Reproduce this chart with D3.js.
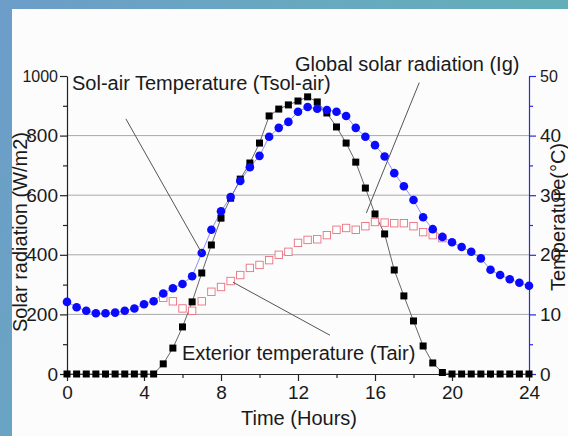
<!DOCTYPE html>
<html><head><meta charset="utf-8">
<script src="https://cdn.jsdelivr.net/npm/d3@7"></script>
<style>
html,body{margin:0;padding:0;background:#fff;}
svg{display:block;font-family:"Liberation Sans",Arial,Helvetica,sans-serif;}
</style></head><body>
<script>
// ---- data ----
const hours = [0,0.5,1,1.5,2,2.5,3,3.5,4,4.5,5,5.5,6,6.5,7,7.5,8,8.5,9,9.5,10,10.5,11,11.5,12,12.5,13,13.5,14,14.5,15,15.5,16,16.5,17,17.5,18,18.5,19,19.5,20,20.5,21,21.5,22,22.5,23,23.5,24];
const solarRadiation = [0,0,0,0,0,0,0,0,0,0,34,87,158,242,339,433,523,590,654,708,775,866,889,903,916,930,913,876,829,775,711,624,537,470,349,262,178,94,37,5,0,0,0,0,0,0,0,0,0];
const solAirTemp = [12.1,11.2,10.6,10.2,10.2,10.3,10.6,11.0,11.7,12.2,13.5,14.4,15.1,16.4,20.3,24.2,27.3,29.7,32.4,34.7,36.6,39.8,41.3,42.3,44.0,44.8,44.5,44.3,44.0,43.3,41.3,39.8,38.4,36.5,33.7,31.5,29.2,26.3,24.3,23.0,22.1,21.3,20.5,19.4,17.5,16.6,15.9,15.3,14.8];
const airHours = [5,5.5,6,6.5,7,7.5,8,8.5,9,9.5,10,10.5,11,11.5,12,12.5,13,13.5,14,14.5,15,15.5,16,16.5,17,17.5,18,18.5,19,19.5];
const airTemp = [12.8,12.2,11.0,10.6,12.2,13.8,14.6,15.6,16.6,17.8,18.3,19.1,20.0,20.5,22.0,22.5,22.6,23.3,24.2,24.5,24.2,24.8,25.5,25.4,25.3,25.3,24.8,23.8,23.3,22.8];
const xTicks = [0,4,8,12,16,20,24];
const xMinor = [2,6,10,14,18,22];
const leftTicks = [0,200,400,600,800,1000];
const leftMinor = [100,300,500,700,900];
const rightTicks = [0,10,20,30,40,50];
const rightMinor = [5,15,25,35,45];
const gridValues = [200,400,600,800];

const W = 568, H = 436;
const svg = d3.select("body").append("svg").attr("width", W).attr("height", H);

// background (slide)
const defs = svg.append("defs");
const g1 = defs.append("linearGradient").attr("id","bg").attr("x1","0").attr("y1","0").attr("x2","1").attr("y2","0.3");
g1.append("stop").attr("offset","0").attr("stop-color","#6c9dc9");
g1.append("stop").attr("offset","0.5").attr("stop-color","#68a9bf");
g1.append("stop").attr("offset","1").attr("stop-color","#62afb7");
svg.append("rect").attr("width",W).attr("height",H).attr("fill","url(#bg)");
svg.append("rect").attr("x",12).attr("y",9).attr("width",W-12).attr("height",H-9).attr("fill","#fcfcfc");

const x = d3.scaleLinear().domain([0,24]).range([67,529]);
const yL = d3.scaleLinear().domain([0,1000]).range([374,76]);
const yR = d3.scaleLinear().domain([0,50]).range([374,76]);
const fmt = d3.format("d");

// gridlines
svg.append("g").selectAll("line").data(gridValues).join("line")
  .attr("x1", x(0)).attr("x2", x(24))
  .attr("y1", d=>yL(d)).attr("y2", d=>yL(d))
  .attr("stroke","#a8a8a8").attr("stroke-width",1);

// axes
function styleAxis(g, color, fs){
  g.select(".domain").attr("stroke", color).attr("stroke-width",1.2);
  g.selectAll(".tick line").attr("stroke", color).attr("stroke-width",1.2);
  g.selectAll(".tick text").attr("fill","#1a1a1a").style("font-size", fs+"px");
}
const gx = svg.append("g").attr("transform",`translate(0,${yL(0)})`)
  .call(d3.axisBottom(x).tickValues(xTicks).tickFormat(fmt).tickSize(7).tickPadding(5).tickSizeOuter(0));
styleAxis(gx, "#222", 19);
svg.append("g").attr("transform",`translate(0,${yL(0)})`)
  .call(d3.axisBottom(x).tickValues(xMinor).tickSize(4).tickFormat("").tickSizeOuter(0))
  .call(g=>{g.select(".domain").remove(); g.selectAll("line").attr("stroke","#222").attr("stroke-width",1.2);});

const gl = svg.append("g").attr("transform",`translate(${x(0)},0)`)
  .call(d3.axisLeft(yL).tickValues(leftTicks).tickFormat(fmt).tickSize(7).tickPadding(2).tickSizeOuter(0));
styleAxis(gl, "#222", 19);
gl.selectAll(".tick text").filter(d=>d===1000).style("font-size","16px");
svg.append("g").attr("transform",`translate(${x(0)},0)`)
  .call(d3.axisLeft(yL).tickValues(leftMinor).tickSize(4).tickFormat("").tickSizeOuter(0))
  .call(g=>{g.select(".domain").remove(); g.selectAll("line").attr("stroke","#222").attr("stroke-width",1.2);});

const gr = svg.append("g").attr("transform",`translate(${x(24)},0)`)
  .call(d3.axisRight(yR).tickValues(rightTicks).tickFormat(fmt).tickSize(7).tickPadding(4).tickSizeOuter(0));
styleAxis(gr, "#2a2ae0", 19);
gr.selectAll(".tick text").filter(d=>d===50).style("font-size","16px");
svg.append("g").attr("transform",`translate(${x(24)},0)`)
  .call(d3.axisRight(yR).tickValues(rightMinor).tickSize(4).tickFormat("").tickSizeOuter(0))
  .call(g=>{g.select(".domain").remove(); g.selectAll("line").attr("stroke","#2a2ae0").attr("stroke-width",1.2);});

// axis titles
svg.append("text").attr("x", 299).attr("y", 425).attr("text-anchor","middle")
  .style("font-size","20px").attr("fill","#1a1a1a").text("Time (Hours)");
svg.append("text").attr("transform","translate(27,232) rotate(-90)").attr("text-anchor","middle")
  .style("font-size","20px").attr("fill","#1a1a1a").text("Solar radiation (W/m2)");
svg.append("text").attr("transform","translate(565,217) rotate(-90)").attr("text-anchor","middle")
  .style("font-size","20px").attr("fill","#1a1a1a").text("Temperature(°C)");

// series lines
const ig = hours.map((h,i)=>[h, solarRadiation[i]]);
const tsa = hours.map((h,i)=>[h, solAirTemp[i]]);
const ta = airHours.map((h,i)=>[h, airTemp[i]]);

svg.append("path").datum(ig)
  .attr("d", d3.line().x(d=>x(d[0])).y(d=>yL(d[1])))
  .attr("fill","none").attr("stroke","#666").attr("stroke-width",1);
svg.append("path").datum(tsa)
  .attr("d", d3.line().x(d=>x(d[0])).y(d=>yR(d[1])))
  .attr("fill","none").attr("stroke","#7070ff").attr("stroke-width",0.8);

// markers
svg.append("g").selectAll("rect").data(ta).join("rect")
  .attr("x", d=>x(d[0])-3.7).attr("y", d=>yR(d[1])-3.7)
  .attr("width",7.4).attr("height",7.4)
  .attr("fill","#fff").attr("stroke","#e8707e").attr("stroke-width",0.9);
svg.append("g").selectAll("rect").data(ig).join("rect")
  .attr("x", d=>x(d[0])-3.5).attr("y", d=>yL(d[1])-3.5)
  .attr("width",7).attr("height",7).attr("fill","#000");
svg.append("g").selectAll("circle").data(tsa).join("circle")
  .attr("cx", d=>x(d[0])).attr("cy", d=>yR(d[1])).attr("r",4.3)
  .attr("fill","#0a0aff");

// annotations (anchors in data units)
const leaders = [
  {from:[3.06, yL(856)], to:[7, yR(20.3)]},
  {from:[18.3, yL(978)], to:[15.55, yL(540)]},
  {from:[8.62, yR(15.4)], to:[13.66, yR(6.5)]}
];
svg.append("g").selectAll("line").data(leaders).join("line")
  .attr("x1", d=>x(d.from[0])).attr("y1", d=>d.from[1])
  .attr("x2", d=>x(d.to[0])).attr("y2", d=>d.to[1])
  .attr("stroke","#555").attr("stroke-width",1);

const labels = [
  {t:"Sol-air Temperature (Tsol-air)", h:0.26, yv:yL(952)},
  {t:"Global solar radiation (Ig)", h:11.84, yv:yL(1017)},
  {t:"Exterior temperature (Tair)", h:5.97, yv:yR(2.3)}
];
svg.append("g").selectAll("text").data(labels).join("text")
  .attr("x", d=>x(d.h)).attr("y", d=>d.yv)
  .style("font-size","20px").attr("fill","#1a1a1a").text(d=>d.t);
</script>
</body></html>
